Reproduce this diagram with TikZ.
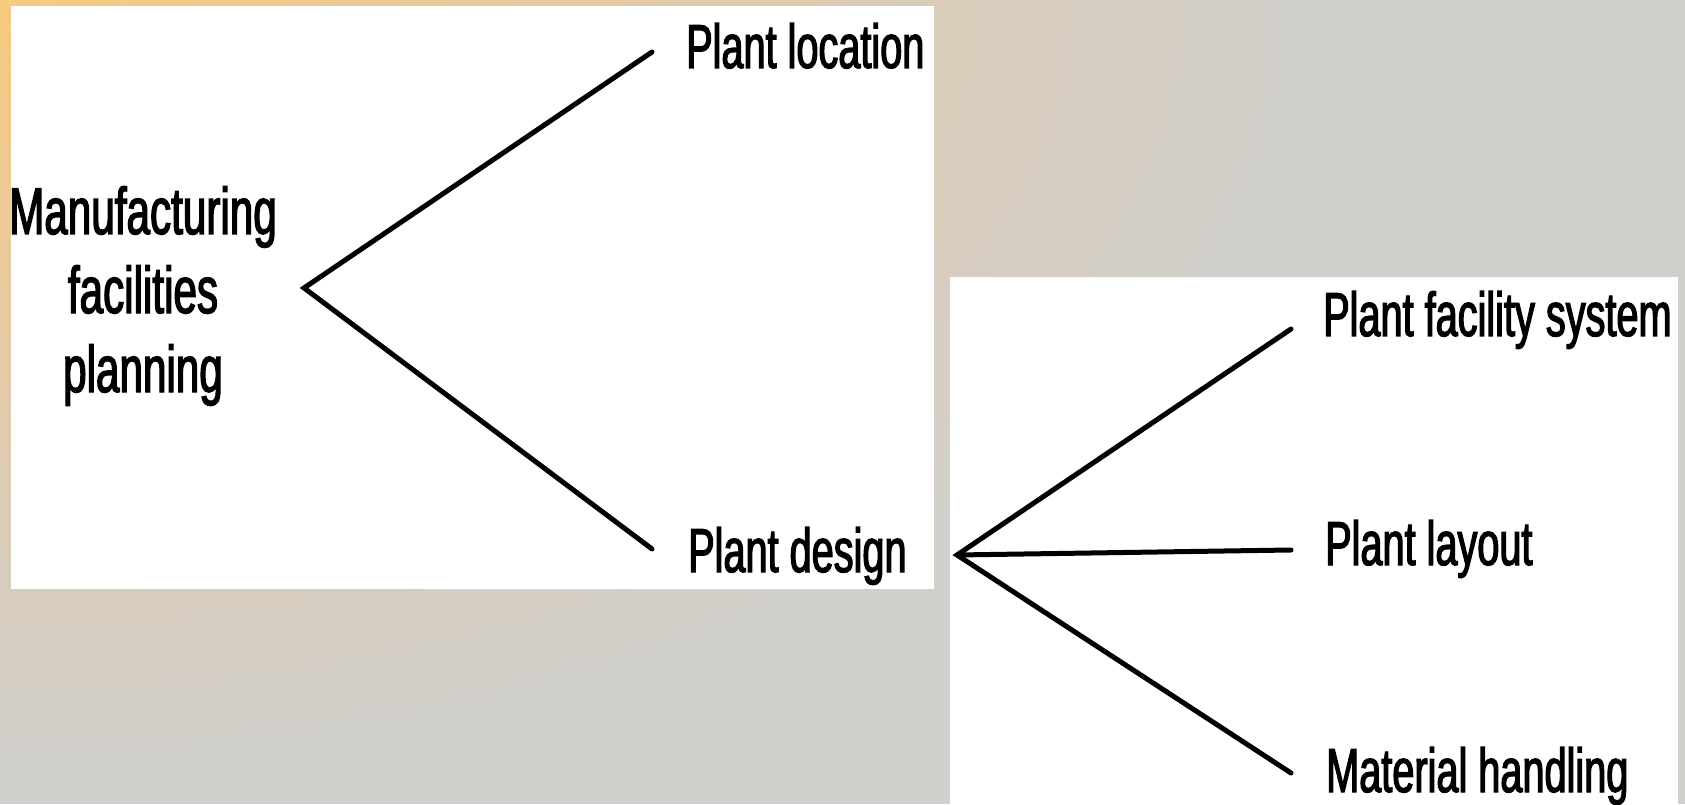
\documentclass[tikz,border=0pt]{standalone}
\usepackage{fontspec}
\setmainfont{Liberation Sans}[FakeStretch=0.64,FakeBold=2]
\definecolor{bgA}{HTML}{F6CA7E}
\definecolor{bgB}{HTML}{E8CAA0}
\definecolor{bgC}{HTML}{DACCB7}
\definecolor{bgD}{HTML}{D1CFCB}
\pgfdeclareradialshading{bgshade}{\pgfpoint{0bp}{0bp}}{color(0bp)=(bgA); color(10bp)=(bgB); color(17bp)=(bgC); color(25bp)=(bgD); color(50bp)=(bgD)}
\tikzset{
  lbl/.style={anchor=base west, inner sep=0pt, font=\fontsize{62}{74}\selectfont},
  root/.style={anchor=base, inner sep=0pt, align=center, font=\fontsize{66}{79}\selectfont},
  branch/.style={line width=5pt, line cap=round, line join=miter},
  panel/.style={fill=white, draw=none}
}
\begin{document}
\begin{tikzpicture}[x=1pt,y=1pt]
\useasboundingbox (0,0) rectangle (1685,804);
\fill[bgD] (0,0) rectangle (1685,804);
\begin{scope}
\clip (0,0) rectangle (1685,804);
\shade[shading=bgshade] (0,804) ellipse [x radius=1300, y radius=760];
\end{scope}
% panels
\fill[panel] (11,215) rectangle (934,798);
\fill[panel] (950,0) rectangle (1678,527);
% texts
\node[root] (mfp) at (143,412) {Manufacturing\\facilities\\planning};
\node[lbl] (loc) at (686,736) {Plant location};
\node[lbl] (des) at (688,232) {Plant design};
\node[lbl] (fac) at (1323,468) {Plant facility system};
\node[lbl] (lay) at (1325,239) {Plant layout};
\node[lbl] (mat) at (1326,12) {Material handling};
% connector points
\coordinate (v1) at (304,516);
\coordinate (e1) at (652,752);
\coordinate (e2) at (652,255);
\coordinate (v2) at (957,249);
\coordinate (f1) at (1291,475);
\coordinate (f2) at (1291,254);
\coordinate (f3) at (1291,31);
\draw[branch] (e1) -- (v1) -- (e2);
\draw[branch] (f1) -- (v2) -- (f3);
\draw[branch] (v2) -- (f2);
\end{tikzpicture}
\end{document}
